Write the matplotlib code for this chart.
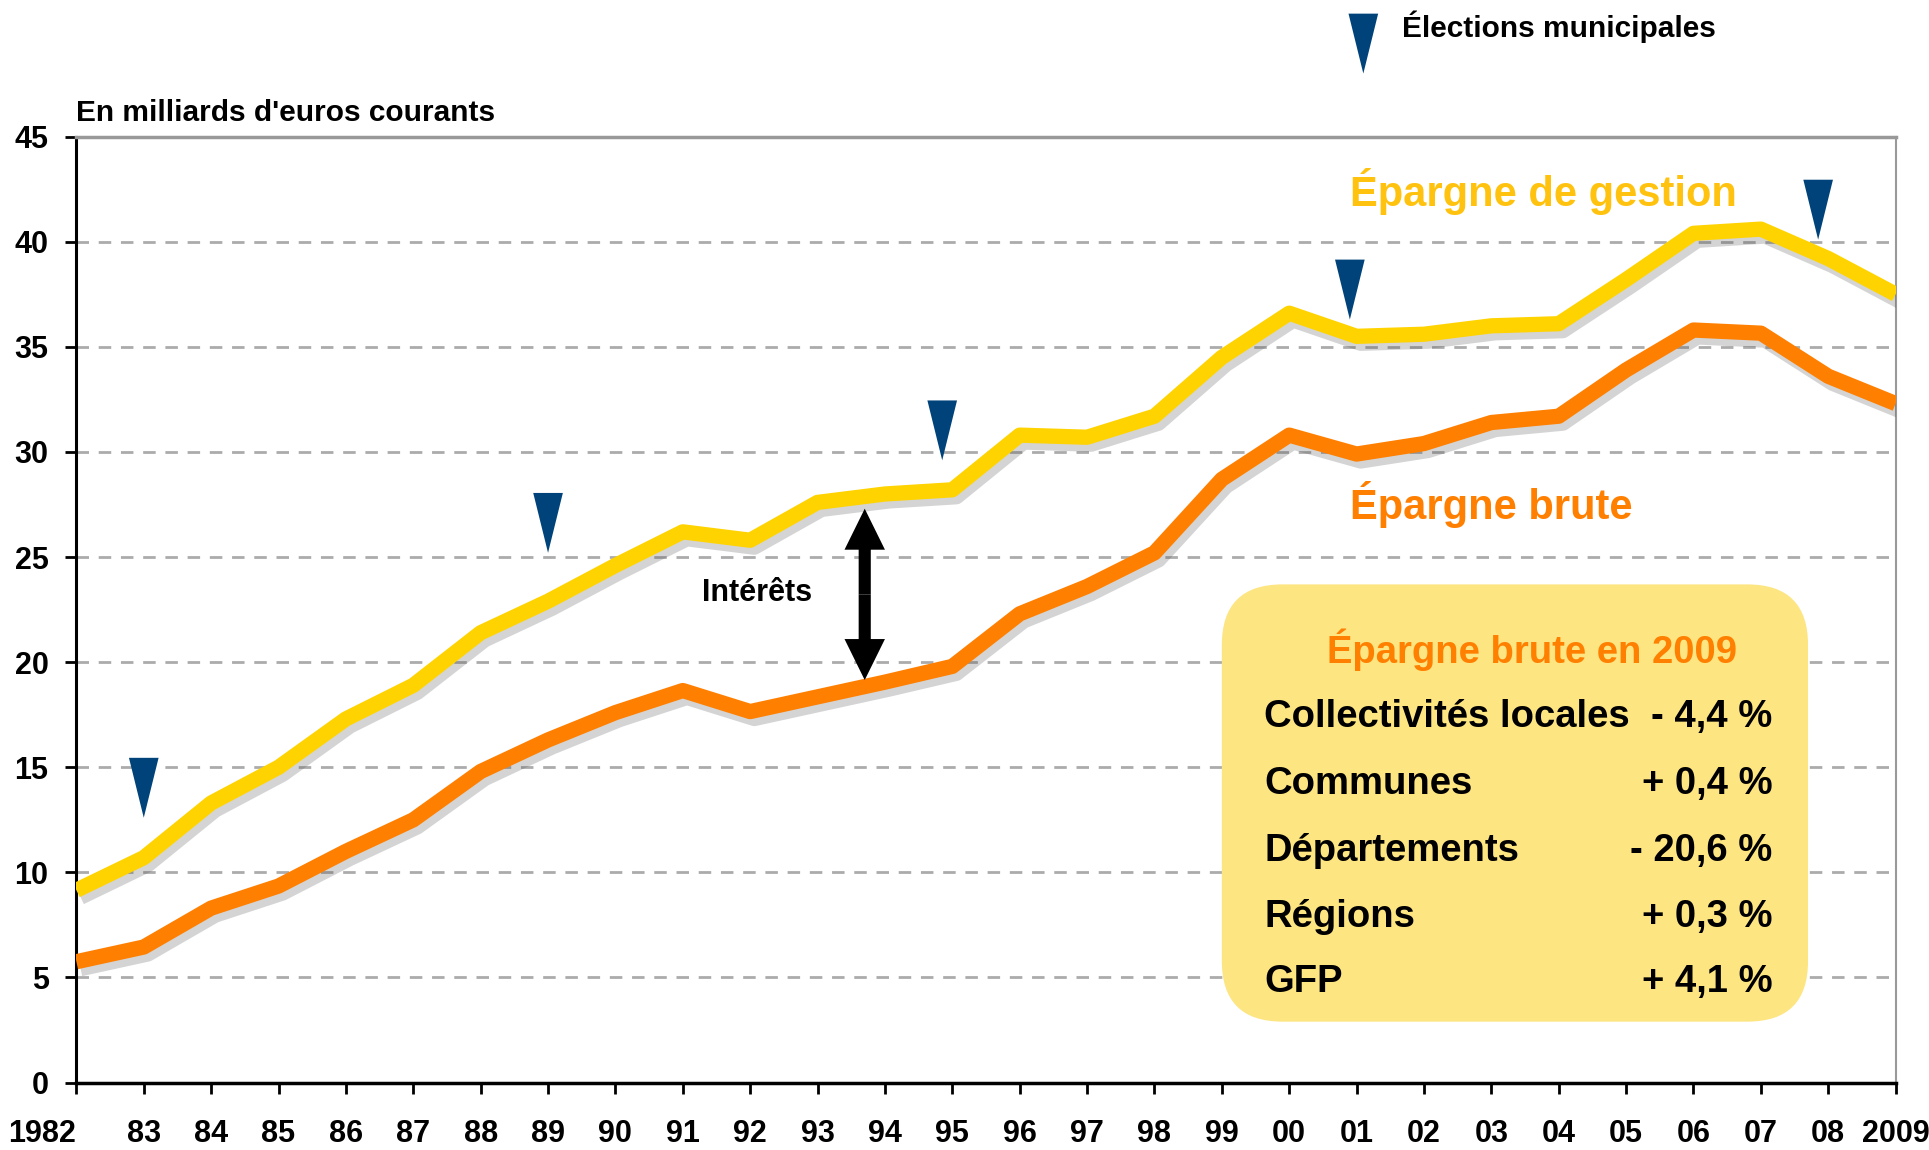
import numpy as np
import matplotlib
matplotlib.use("Agg")
import matplotlib.pyplot as plt
import matplotlib.patheffects as pe
from matplotlib.patches import FancyBboxPatch

years = np.arange(1982, 2010)
epargne_gestion = [9.15, 10.7, 13.3, 15.0, 17.3, 18.9, 21.4, 22.9, 24.6, 26.2,
                   25.8, 27.6, 28.0, 28.2, 30.8, 30.7, 31.7, 34.5, 36.6, 35.5,
                   35.6, 36.0, 36.1, 38.2, 40.4, 40.6, 39.2, 37.5]
epargne_brute = [5.75, 6.45, 8.3, 9.35, 11.0, 12.5, 14.8, 16.3, 17.6, 18.65,
                 17.65, 18.35, 19.05, 19.8, 22.3, 23.6, 25.2, 28.7, 30.8, 29.9,
                 30.4, 31.4, 31.7, 33.9, 35.8, 35.65, 33.6, 32.3]
tick_labels = ["1982"] + ["%02d" % (y % 100) for y in range(1983, 2009)] + ["2009"]

# municipal elections: x position and tip of the marker
election_x = [1983.0, 1989.0, 1994.85, 2000.9, 2007.85]
election_tip = [12.6, 25.2, 29.6, 36.3, 40.1]

box_rows = ["Collectivités locales", "Communes", "Départements", "Régions", "GFP"]
box_vals = ["- 4,4 %", "+ 0,4 %", "- 20,6 %", "+ 0,3 %", "+ 4,1 %"]

YELLOW = "#FFD300"
YELLOW_TXT = "#FFC20E"
ORANGE = "#FF7F00"
NAVY = "#00437A"
GRID = "#ABABAB"
BOXFILL = "#FDE581"

plt.rcParams["font.family"] = ["Liberation Sans Narrow", "Liberation Sans", "DejaVu Sans"]
plt.rcParams["font.weight"] = "bold"

fig = plt.figure(figsize=(19.29, 11.5), dpi=100)
ax = fig.add_axes([0.0396, 0.0586, 0.9431, 0.8226])

ax.set_xlim(1982, 2009)
ax.set_ylim(0, 45)

for yv in range(5, 45, 5):
    ax.axhline(yv, color=GRID, lw=2, ls=(0, (4.5, 3.5)), zorder=1)

shadow = [pe.SimpleLineShadow(offset=(3, -5), shadow_color="#555555", alpha=0.25),
          pe.Normal()]
ax.plot(years, epargne_gestion, color=YELLOW, lw=11, solid_joinstyle="round",
        solid_capstyle="butt", path_effects=shadow, zorder=3)
ax.plot(years, epargne_brute, color=ORANGE, lw=11, solid_joinstyle="round",
        solid_capstyle="butt", path_effects=shadow, zorder=3)

# election markers (tall narrow triangles)
tw, th = 0.22, 2.85
for xe, ye in zip(election_x, election_tip):
    ax.fill([xe - tw, xe + tw, xe], [ye + th, ye + th, ye], color=NAVY, lw=0, zorder=5)

# legend marker above the plot
lx, ly = 2001.1, 48.0
ax.fill([lx - tw, lx + tw, lx], [ly + th, ly + th, ly], color=NAVY, lw=0,
        zorder=5, clip_on=False)
ax.text(2001.67, 50.25, "Élections municipales", fontsize=21.5, fontweight="bold",
        va="center", ha="left", clip_on=False)

ax.text(1982, 46.1, "En milliards d'euros courants", fontsize=21.5, fontweight="bold",
        va="center", ha="left", clip_on=False)

ax.text(2000.9, 42.4, "Épargne de gestion", fontsize=30, fontweight="bold",
        color=YELLOW_TXT, va="center", ha="left")
ax.text(2000.9, 27.5, "Épargne brute", fontsize=30, fontweight="bold",
        color=ORANGE, va="center", ha="left")

# interest gap arrow
ax_x, top, bot = 1993.7, 27.3, 19.15
mid = (top + bot) / 2
for end in (top, bot):
    ax.arrow(ax_x, mid, 0, end - mid, width=0.18, head_width=0.6, head_length=1.95,
             length_includes_head=True, color="black", lw=0, zorder=6)
ax.text(1992.1, 23.3, "Intérêts", fontsize=22, fontweight="bold", ha="center", va="center")

# summary box
box = FancyBboxPatch((1999.0, 2.9), 8.7, 20.8,
                     boxstyle="round,pad=0,rounding_size=0.9",
                     mutation_aspect=3.2, fc=BOXFILL, ec="none", zorder=4)
ax.add_patch(box)
ax.text(2003.6, 20.6, "Épargne brute en 2009", fontsize=27.5, fontweight="bold",
        color=ORANGE, ha="center", va="center", zorder=5)
row_y = [17.4, 14.2, 11.0, 7.9, 4.8]
for name, val, yy in zip(box_rows, box_vals, row_y):
    ax.text(1999.63, yy, name, fontsize=27.5, fontweight="bold", ha="left", va="center", zorder=5)
    ax.text(2007.17, yy, val, fontsize=27.5, fontweight="bold", ha="right", va="center", zorder=5)

ax.set_xticks(years)
ax.set_xticklabels(tick_labels)
ax.set_yticks(range(0, 50, 5))
ax.tick_params(axis="both", direction="out", length=8, width=2, colors="black")
ax.tick_params(axis="x", pad=18, labelsize=22)
ax.tick_params(axis="y", pad=12, labelsize=22)
for lab in ax.get_xticklabels() + ax.get_yticklabels():
    lab.set_fontweight("bold")
ax.get_xticklabels()[0].set_ha("right")

ax.spines["left"].set_linewidth(2.2)
ax.spines["bottom"].set_linewidth(2.5)
ax.spines["right"].set_color("#999999")
ax.spines["right"].set_linewidth(1.5)
ax.spines["top"].set_color("#999999")
ax.spines["top"].set_linewidth(2.5)

fig.savefig("out.png", dpi=100, facecolor="white")
